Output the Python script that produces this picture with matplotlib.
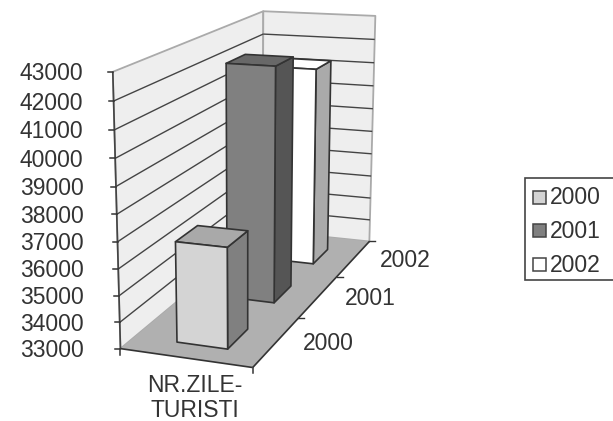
import numpy as np
import matplotlib
matplotlib.use("Agg")
import matplotlib.pyplot as plt
from matplotlib.patches import Polygon, Rectangle

plt.rcParams['font.family'] = ['Liberation Sans', 'DejaVu Sans']

# ---- data ----
series_names = ['2000', '2001', '2002']
series_values = [36800, 42300, 41300]
value_ticks = [33000, 34000, 35000, 36000, 37000, 38000, 39000, 40000, 41000, 42000, 43000]
category_labels = ['NR.ZILE-\nTURISTI']

# ---- styles ----
front_colors = ['#d4d4d4', '#808080', '#ffffff']
top_colors = ['#a9a9a9', '#686868', '#ffffff']
side_colors = ['#808080', '#555555', '#aaaaaa']
edge = '#333333'
text_color = '#333333'
W, H = 613, 421
FS = 16.5

fig = plt.figure(figsize=(W / 100, H / 100), dpi=100)
ax = fig.add_axes([0, 0, 1, 1])
ax.set_xlim(0, W)
ax.set_ylim(H, 0)
ax.axis('off')

# camera fitted to the chart box corners (unit cube -> pixels)
anchors = [((0, 0, 0), (120, 348)), ((1, 0, 0), (253, 368)), ((1, 1, 0), (369, 241)),
           ((0, 1, 0), (263, 231)), ((0, 0, 1), (113, 72)), ((0, 1, 1), (263, 11)),
           ((1, 1, 1), (375.5, 16))]
A, b = [], []
for (X, Y, Z), (u, v) in anchors:
    A.append([X, Y, Z, 1, 0, 0, 0, 0, -u * X, -u * Y, -u * Z])
    b.append(u)
    A.append([0, 0, 0, 0, X, Y, Z, 1, -v * X, -v * Y, -v * Z])
    b.append(v)
m = np.linalg.lstsq(np.array(A, float), np.array(b, float), rcond=None)[0]
P = np.append(m, 1).reshape(3, 4)


def zfrac(v):
    return (v - value_ticks[0]) / (value_ticks[-1] - value_ticks[0])


def pr(x, y, z):
    q = P @ np.array([x, y, z, 1.0])
    return q[0] / q[2], q[1] / q[2]


def face(pts, fc, ec=edge, lw=1.2, z=1):
    ax.add_patch(Polygon([pr(*p) for p in pts], closed=True, fc=fc, ec=ec, lw=lw, zorder=z, joinstyle='round'))


def seg(a, b, color=edge, lw=1.1, z=2):
    p, q = pr(*a), pr(*b)
    ax.plot([p[0], q[0]], [p[1], q[1]], color=color, lw=lw, zorder=z, solid_capstyle='butt')


# walls and floor
face([(0, 0, 0), (0, 1, 0), (0, 1, 1), (0, 0, 1)], '#eeeeee', '#aaaaaa', 1.3, 1)
face([(0, 1, 0), (1, 1, 0), (1, 1, 1), (0, 1, 1)], '#eeeeee', '#aaaaaa', 1.3, 1)
for v in value_ticks[1:-1]:
    t = zfrac(v)
    seg((0, 0, t), (0, 1, t), '#444444', 1.0)
    seg((0, 1, t), (1, 1, t), '#444444', 1.0)
face([(0, 0, 0), (1, 0, 0), (1, 1, 0), (0, 1, 0)], '#b0b0b0', 'none', 0, 3)

# axes
seg((0, 0, 0), (0, 0, 1), '#444444', 1.2, 4)
seg((0, 0, 0), (1, 0, 0), '#333333', 1.2, 4)
seg((1, 0, 0), (1, 1, 0), '#333333', 1.2, 4)
for v in value_ticks:
    p = pr(0, 0, zfrac(v))
    ax.plot([p[0] - 5, p[0]], [p[1], p[1]], color='#333333', lw=1.1, zorder=4)
    ax.text(83.5, p[1] + 2, str(v), ha='right', va='center', fontsize=FS, color=text_color)
p = pr(0, 0, 0)
ax.plot([p[0], p[0]], [p[1], p[1] + 6], color='#333333', lw=1.1, zorder=4)
p = pr(1, 0, 0)
ax.plot([p[0], p[0]], [p[1], p[1] + 5], color='#333333', lw=1.1, zorder=4)
n = len(series_names)
for i, name in enumerate(series_names):
    q = pr(1, (i + 1) / n, 0)
    ax.plot([q[0], q[0] + 6], [q[1], q[1]], color='#333333', lw=1.0, zorder=4)
    q = pr(1, (i + 0.5) / n, 0)
    ax.text(q[0] + 52, q[1] + 2, name, ha='center', va='center', fontsize=FS, color=text_color)

# bars (back to front)
x0, x1 = 0.33, 0.72
for i in range(n - 1, -1, -1):
    y0 = (i + 0.25) / n
    y1 = (i + 0.66) / n
    t = zfrac(series_values[i])
    zo = 10 + (n - i)
    face([(x1, y0, 0), (x1, y1, 0), (x1, y1, t), (x1, y0, t)], side_colors[i], z=zo)
    face([(x0, y0, t), (x1, y0, t), (x1, y1, t), (x0, y1, t)], top_colors[i], z=zo)
    face([(x0, y0, 0), (x1, y0, 0), (x1, y0, t), (x0, y0, t)], front_colors[i], z=zo)

# category label
ax.text(195, 398, category_labels[0], ha='center', va='center', fontsize=FS, color=text_color, linespacing=1.12)

# legend
ax.add_patch(Rectangle((525, 178), 90, 102, fc='white', ec='#444444', lw=1.2, zorder=5))
for i, name in enumerate(series_names):
    yc = 197 + i * 33.5
    ax.add_patch(Rectangle((533, yc - 6.5), 12.5, 13, fc=front_colors[i], ec='#444444', lw=1.1, zorder=6))
    ax.text(550, yc + 1, name, ha='left', va='center', fontsize=FS, color=text_color, zorder=6)

fig.savefig('out.png', dpi=100)
